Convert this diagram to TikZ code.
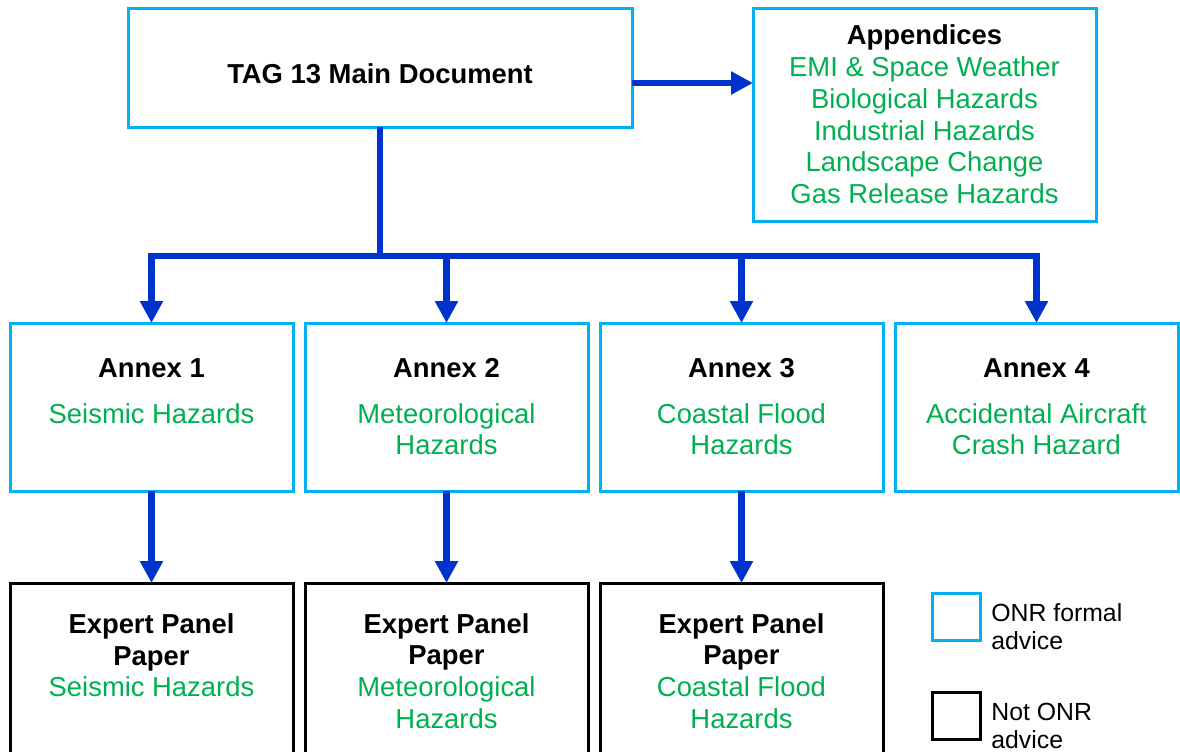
\documentclass[tikz,border=0pt]{standalone}
\usepackage{fontspec}
\setmainfont{Liberation Sans}
\usepackage{xcolor}
\usetikzlibrary{arrows.meta,positioning}
\definecolor{onrcyan}{HTML}{00B0F0}
\definecolor{arrblue}{HTML}{0033CC}
\definecolor{hazgreen}{HTML}{00B050}
\newcommand{\hz}[1]{\textcolor{hazgreen}{#1}}

\begin{document}
\begin{tikzpicture}[x=0.5pt,y=-0.5pt,
  box/.style={draw=onrcyan,line width=1.5pt,align=center,outer sep=0pt,inner sep=3pt,font=\fontsize{13.7}{15.9}\selectfont},
  annex/.style={box,minimum width=141.5pt,minimum height=84pt},
  panel/.style={annex,draw=black,minimum height=88pt},
  key/.style={box,minimum width=24pt,minimum height=23.5pt},
  keytxt/.style={align=left,inner sep=0pt,anchor=north west,font=\fontsize{12.4}{14}\selectfont},
  arr/.style={-{Triangle[length=11pt,width=11pt]},line width=3.3pt,draw=arrblue},
  link/.style={line width=3.3pt,draw=arrblue}]
\useasboundingbox (0,0) rectangle (1180,751);
\node[box,minimum width=252pt,minimum height=59.5pt,text height=16.3pt,text depth=0pt] (main) at (380,67.5) {\textbf{TAG 13 Main Document}};
\node[box,minimum width=171.5pt,minimum height=106.5pt,right=60.5pt of main.north east,anchor=north west] (app) {\textbf{Appendices}\\
\hz{EMI \& Space Weather}\\\hz{Biological Hazards}\\\hz{Industrial Hazards}\\\hz{Landscape Change}\\\hz{Gas Release Hazards}};
% annexes
\node[annex] (a1) at (151.5,407) {\textbf{Annex 1}\\[6.75pt]\hz{Seismic Hazards}\\\mbox{}};
\node[annex,right=6pt of a1] (a2) {\textbf{Annex 2}\\[6.75pt]\hz{Meteorological}\\\hz{Hazards}};
\node[annex,right=6pt of a2] (a3) {\textbf{Annex 3}\\[6.75pt]\hz{Coastal Flood}\\\hz{Hazards}};
\node[annex,right=6pt of a3] (a4) {\textbf{Annex 4}\\[6.75pt]\hz{Accidental Aircraft}\\\hz{Crash Hazard}};
% expert panel papers
\node[panel,below=46pt of a1] (e1) {\textbf{Expert Panel}\\\textbf{Paper}\\\hz{Seismic Hazards}\\\mbox{}};
\node[panel,below=46pt of a2] (e2) {\textbf{Expert Panel}\\\textbf{Paper}\\\hz{Meteorological}\\\hz{Hazards}};
\node[panel,below=46pt of a3] (e3) {\textbf{Expert Panel}\\\textbf{Paper}\\\hz{Coastal Flood}\\\hz{Hazards}};
% legend
\node[key] (keyonr) at (956,616.5) {};
\node[key,draw=black] (keynot) at (956,716) {};
\node[keytxt] (keyonrtxt) at ([xshift=5.5pt,yshift=-5pt]keyonr.north east) {ONR formal\\advice};
\node[keytxt] (keynottxt) at ([xshift=5.5pt,yshift=-5pt]keynot.north east) {Not ONR\\advice};
% connectors
\coordinate (tap) at ([yshift=-7.75pt]main.east);
\draw[arr] (tap) -- (tap -| app.west);
\coordinate (bus) at (380,256);
\draw[link] (main.south) -- (bus);
\draw[arr] (bus) -| (a1.north);
\draw[arr] (bus) -| (a4.north);
\draw[arr] (a2.north |- bus) -- (a2.north);
\draw[arr] (a3.north |- bus) -- (a3.north);
\draw[arr] (a1.south) -- (e1.north);
\draw[arr] (a2.south) -- (e2.north);
\draw[arr] (a3.south) -- (e3.north);
\end{tikzpicture}
\end{document}
